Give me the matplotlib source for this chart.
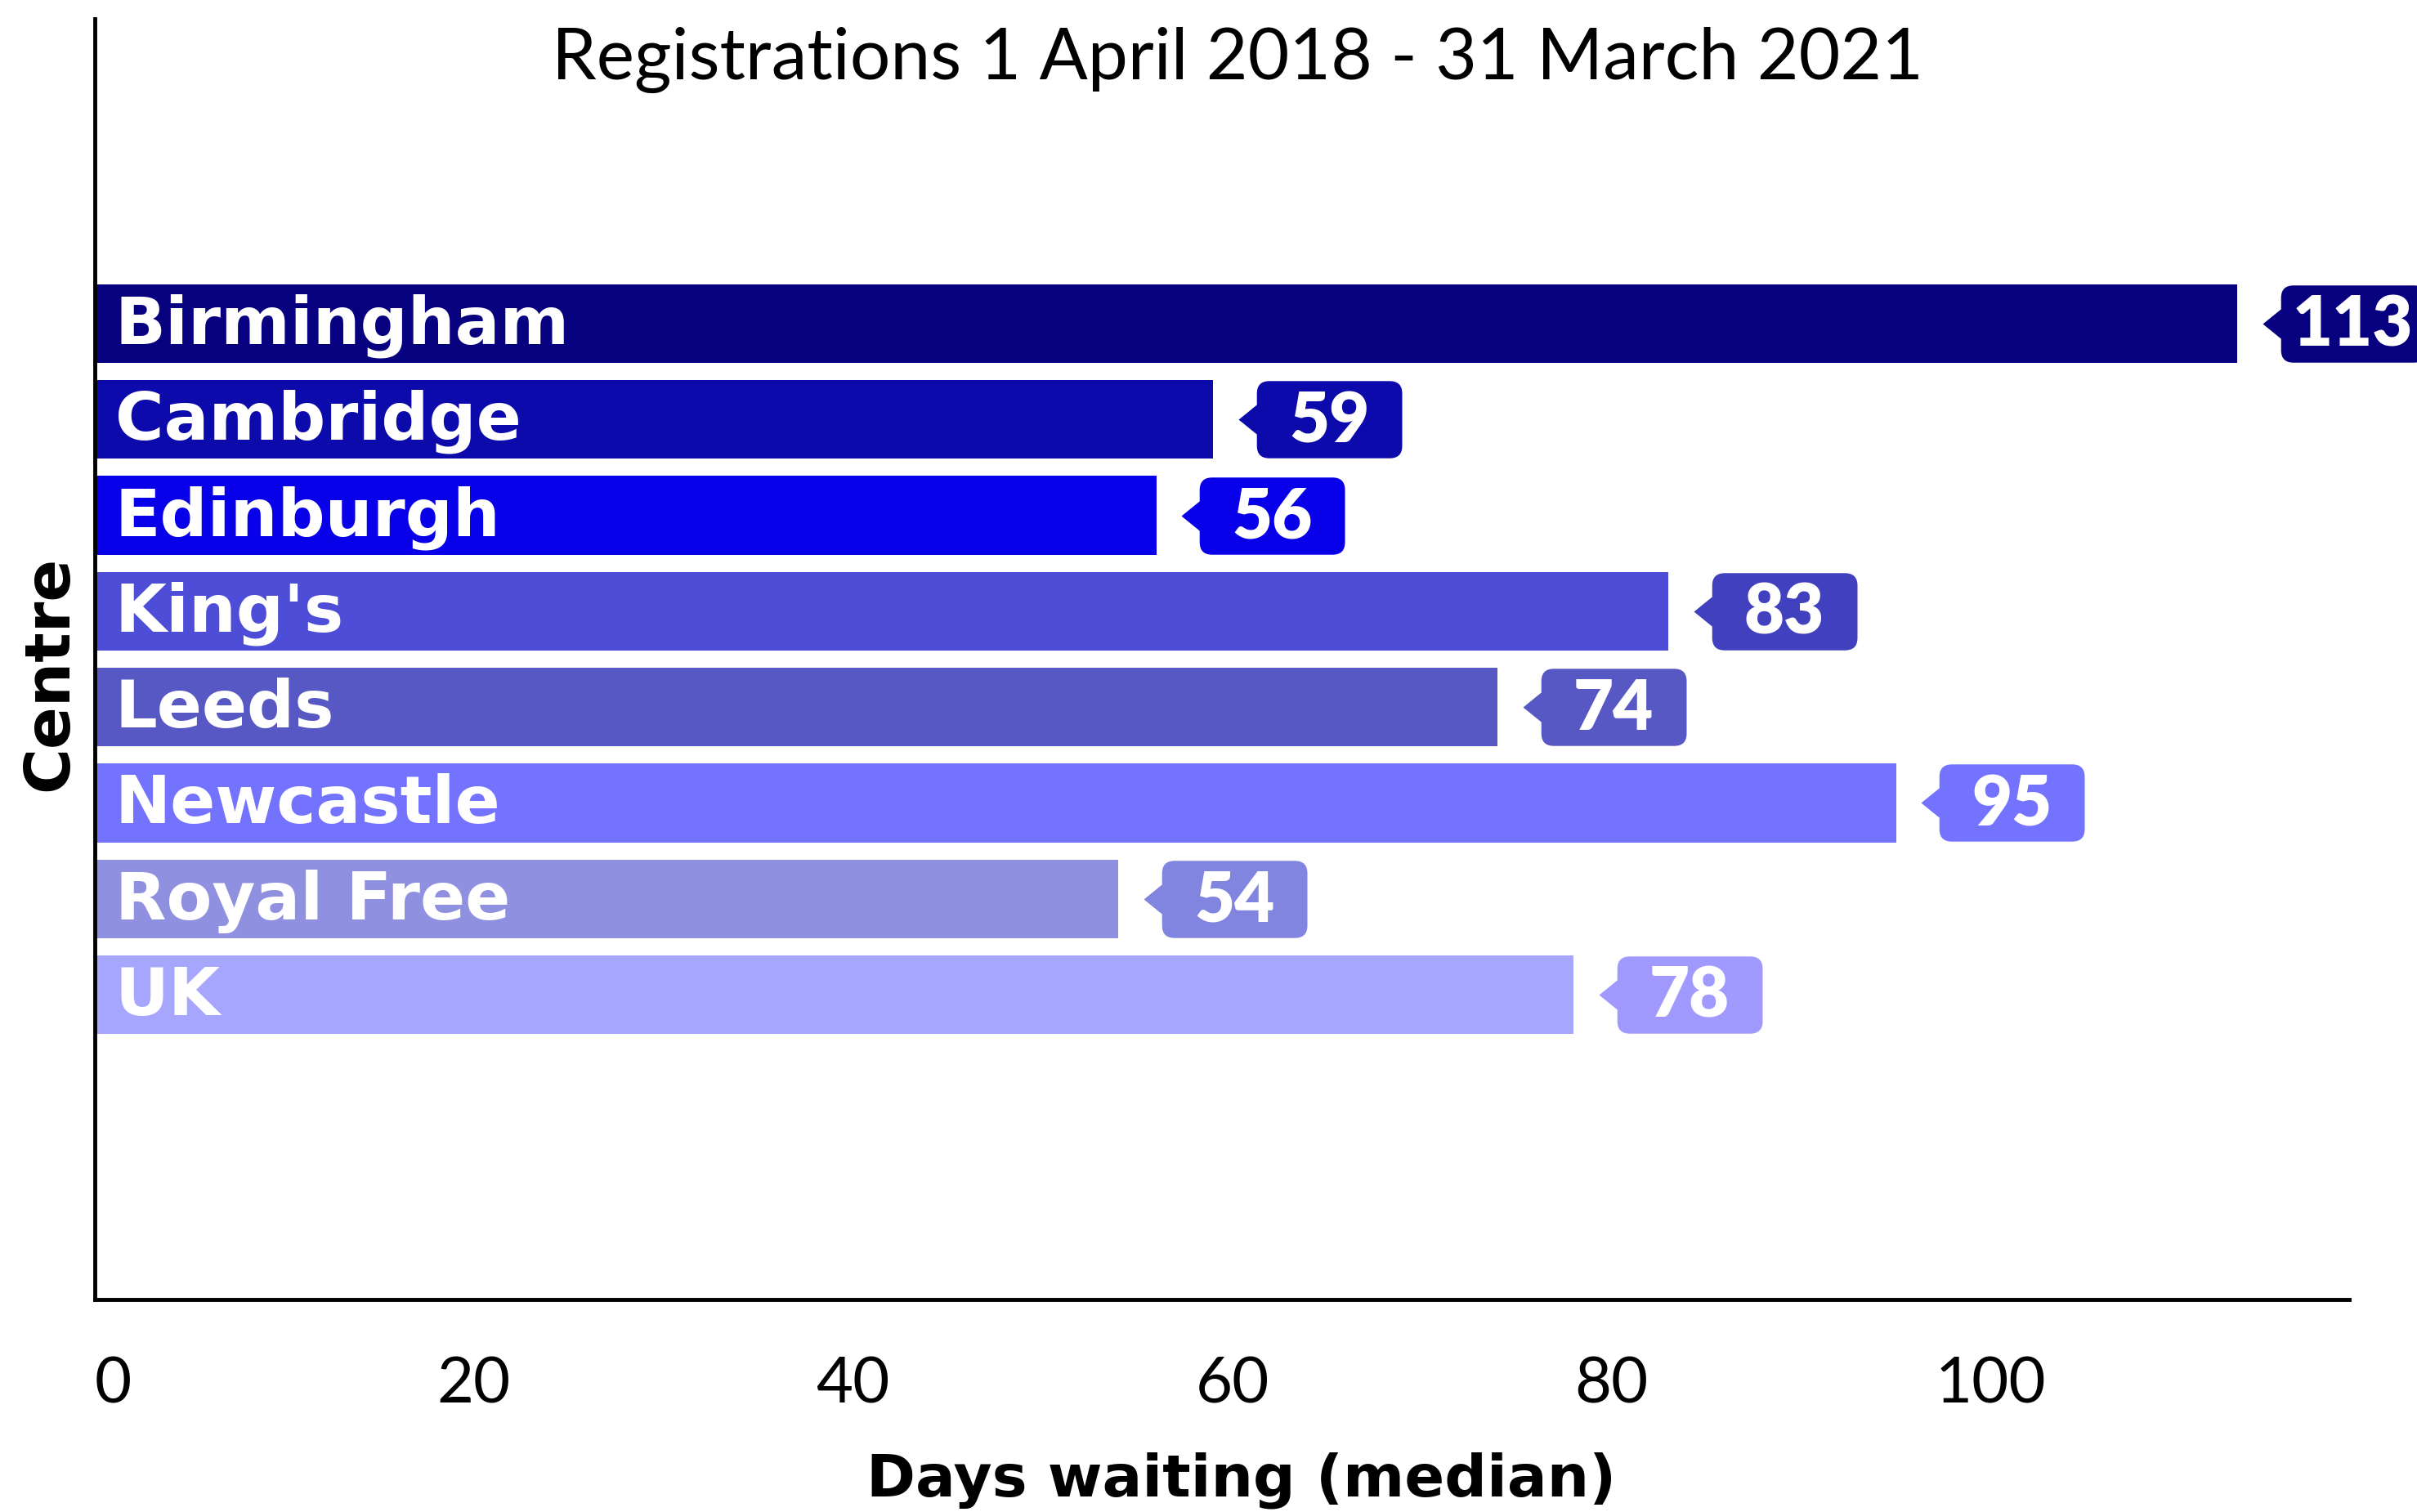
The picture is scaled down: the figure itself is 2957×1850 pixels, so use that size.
import matplotlib
matplotlib.use("Agg")
import matplotlib.pyplot as plt
from matplotlib.path import Path
from matplotlib.transforms import offset_copy

# data
centres = ["Birmingham", "Cambridge", "Edinburgh", "King's", "Leeds",
           "Newcastle", "Royal Free", "UK"]
days = [113, 59, 56, 83, 74, 95, 54, 78]
bar_colors = ["#07007F", "#0C0AAB", "#0700E8", "#4D4DD8", "#5858C4",
              "#7373FF", "#9090E0", "#A6A6FF"]
label_colors = ["#07007F", "#0C0AAB", "#0700E8", "#4141C0", "#5858C4",
                "#7373FF", "#8285E0", "#A09AFF"]
xticks = [0, 20, 40, 60, 80, 100]

plt.rcParams['font.family'] = ['Lato', 'DejaVu Sans']
BOLD = ['DejaVu Sans']


def bubble_path(tip_gap=16, width=128, half_h=34, half_p=13, r=11):
    # speech-bubble outline in points, origin at the pointer tip
    x0 = tip_gap
    x1 = tip_gap + width
    verts = [
        (0, 0), (x0, half_p), (x0, half_h - r),
        (x0, half_h), (x0 + r, half_h),
        (x1 - r, half_h),
        (x1, half_h), (x1, half_h - r),
        (x1, -half_h + r),
        (x1, -half_h), (x1 - r, -half_h),
        (x0 + r, -half_h),
        (x0, -half_h), (x0, -half_h + r),
        (x0, -half_p), (0, 0),
    ]
    codes = [Path.MOVETO, Path.LINETO, Path.LINETO,
             Path.CURVE3, Path.CURVE3,
             Path.LINETO,
             Path.CURVE3, Path.CURVE3,
             Path.LINETO,
             Path.CURVE3, Path.CURVE3,
             Path.LINETO,
             Path.CURVE3, Path.CURVE3,
             Path.LINETO, Path.CLOSEPOLY]
    return Path(verts, codes), x1


fig = plt.figure(figsize=(29.57, 18.5), dpi=100)
ax = fig.add_axes([0.0392, 0.1405, 0.9327, 0.8471])

ypos = list(range(len(centres)))
ax.barh(ypos, days, height=0.82, color=bar_colors)

ax.set_xlim(0, 118.9)
ax.set_ylim(len(centres) - 1 + 3.18, -3.18)

bubble, extent = bubble_path()
tip_tr = offset_copy(ax.transData, fig, x=22, y=0, units='points')
num_tr = offset_copy(ax.transData, fig, x=102, y=-2, units='points')
name_tr = offset_copy(ax.transData, fig, x=18, y=-2, units='points')

for y, v, name, c in zip(ypos, days, centres, label_colors):
    ax.text(0, y, name, transform=name_tr, ha='left', va='center',
            color='white', fontsize=58.5, fontweight='bold', family=BOLD)
    ax.plot(v, y, marker=bubble, markersize=2 * extent, color=c,
            markeredgewidth=0, linestyle='none', transform=tip_tr,
            clip_on=False)
    ax.text(v, y, str(v), transform=num_tr, ha='center', va='center',
            color='white', fontsize=61, fontweight='heavy', clip_on=False)

ax.set_yticks([])
ax.set_xticks(xticks)
ax.set_xticklabels([str(t) for t in xticks], fontsize=56)
ax.get_xticklabels()[0].set_horizontalalignment('left')
ax.tick_params(axis='x', length=0, pad=50)

for s in ['top', 'right']:
    ax.spines[s].set_visible(False)
for s in ['left', 'bottom']:
    ax.spines[s].set_linewidth(3.5)

ax.set_xlabel("Days waiting (median)", fontsize=52, fontweight='bold',
              family=BOLD)
ax.xaxis.set_label_coords(0.5085, -0.119)
ax.set_ylabel("Centre", fontsize=55, fontweight='bold', family=BOLD)
ax.yaxis.set_label_coords(-0.0065, 0.4886)

ax.text(0.507, 0.968, "Registrations 1 April 2018 - 31 March 2021",
        transform=ax.transAxes, ha='center', va='center',
        fontsize=63, fontweight='normal')

fig.savefig("out.png", dpi=100)
